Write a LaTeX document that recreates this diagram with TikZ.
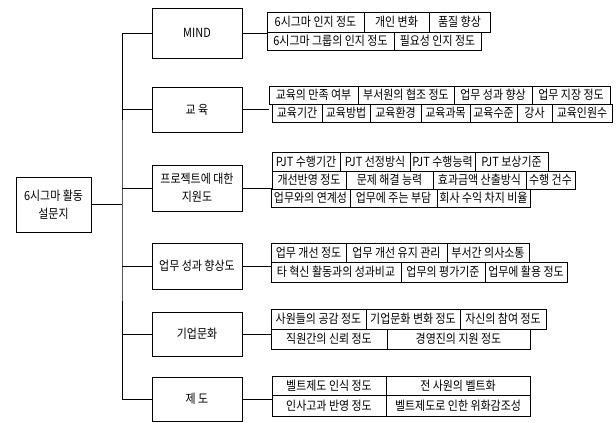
\documentclass[tikz,border=0pt]{standalone}
\usepackage{fontspec}
\setmainfont{Noto Sans CJK KR}
\newfontfamily\itemfont[FakeStretch=0.87]{Noto Sans CJK KR}
\newcommand\mycell[6]{\node[item, minimum width={(#4-#2)*1pt}, minimum height={(#5-#3)*1pt}] (#1) at ({(#2+#4)/2},{(#3+#5)/2}) {\makebox[0pt]{#6}};}
\begin{document}
\begin{tikzpicture}[x=1pt,y=-1pt,
  item/.style={draw, line width=0.9pt, inner sep=0pt, font=\itemfont\fontsize{12.6}{13}\selectfont},
  catbox/.style={draw, line width=0.9pt, inner sep=0pt, align=center, minimum width=90pt, font=\itemfont\fontsize{12.6}{18}\selectfont},
  link/.style={line width=0.9pt}]
\useasboundingbox (0,0) rectangle (616,423);
% root
\node[catbox, minimum width=75pt, minimum height=55pt] (root) at (53.5,204.5) {6시그마 활동\\설문지};
% categories
\node[catbox, minimum height=50pt] (mind) at (197,33) {MIND};
\node[catbox, minimum height=45pt] (edu) at (197,109.5) {교 육};
\node[catbox, minimum height=46pt] (pjt) at (197,188) {프로젝트에 대한\\지원도};
\node[catbox, minimum height=46pt] (perf) at (197,266) {업무 성과 향상도};
\node[catbox, minimum height=44pt] (cult) at (197,334) {기업문화};
\node[catbox, minimum height=44pt] (sys) at (197,399) {제 도};
\coordinate (tk) at (122,204.5);
% MIND items
\mycell{m1}{267}{12}{364}{32}{6시그마 인지 정도}
\mycell{m2}{364}{12}{429}{32}{개인 변화}
\mycell{m3}{429}{12}{490}{32}{품질 향상}
\mycell{m4}{267}{32}{394}{50}{6시그마 그룹의 인지 정도}
\mycell{m5}{394}{32}{481}{50}{필요성 인지 정도}
% education items
\mycell{e1}{269}{86}{358}{104}{교육의 만족 여부}
\mycell{e2}{358}{86}{454}{104}{부서원의 협조 정도}
\mycell{e3}{454}{86}{532}{104}{업무 성과 향상}
\mycell{e4}{532}{86}{610}{104}{업무 지장 정도}
\mycell{e5}{272}{104}{322}{122}{교육기간}
\mycell{e6}{322}{104}{370}{122}{교육방법}
\mycell{e7}{370}{104}{421}{122}{교육환경}
\mycell{e8}{421}{104}{470}{122}{교육과목}
\mycell{e9}{470}{104}{517}{122}{교육수준}
\mycell{e10}{517}{104}{552}{122}{강사}
\mycell{e11}{552}{104}{612}{122}{교육인원수}
% project items
\mycell{p1}{272}{152}{340}{171}{PJT 수행기간}
\mycell{p2}{340}{152}{410}{171}{PJT 선정방식}
\mycell{p3}{410}{152}{475}{171}{PJT 수행능력}
\mycell{p4}{475}{152}{548}{171}{PJT 보상기준}
\mycell{p5}{272}{171}{346}{189}{개선반영 정도}
\mycell{p6}{346}{171}{433}{189}{문제 해결 능력}
\mycell{p7}{433}{171}{526}{189}{효과금액 산출방식}
\mycell{p8}{526}{171}{575}{189}{수행 건수}
\mycell{p9}{271}{189}{350}{207}{업무와의 연계성}
\mycell{p10}{350}{189}{437}{207}{업무에 주는 부담}
\mycell{p11}{437}{189}{530}{207}{회사 수익 차지 비율}
% performance items
\mycell{f1}{271}{243}{346}{262}{업무 개선 정도}
\mycell{f2}{346}{243}{447}{262}{업무 개선 유지 관리}
\mycell{f3}{447}{243}{529}{262}{부서간 의사소통}
\mycell{f4}{271}{262}{401}{282}{타 혁신 활동과의 성과비교}
\mycell{f5}{401}{262}{485}{282}{업무의 평가기준}
\mycell{f6}{485}{262}{567}{282}{업무에 활용 정도}
% culture items
\mycell{c1}{271}{309}{366}{329}{사원들의 공감 정도}
\mycell{c2}{366}{309}{460}{329}{기업문화 변화 정도}
\mycell{c3}{460}{309}{546}{329}{자신의 참여 정도}
\mycell{c4}{271}{329}{387}{349}{직원간의 신뢰 정도}
\mycell{c5}{387}{329}{530}{349}{경영진의 지원 정도}
% system items
\mycell{s1}{272}{376}{386}{395}{벨트제도 인식 정도}
\mycell{s2}{386}{376}{530}{395}{전 사원의 벨트화}
\mycell{s3}{272}{395}{386}{416}{인사고과 반영 정도}
\mycell{s4}{386}{395}{530}{416}{벨트제도로 인한 위화감조성}
% trunk connectors
\draw[link] (root.east) -- (tk);
\draw[link] (mind.west) -| (tk) |- (sys.west);
\draw[link] (edu.west) -- (edu.west -| tk);
\draw[link] (pjt.west) -- (pjt.west -| tk);
\draw[link] (perf.west) -- (perf.west -| tk);
\draw[link] (cult.west) -- (cult.west -| tk);
% category to items
\draw[link] (mind.east) -- (mind.east -| m1.west);
\draw[link] (edu.east) -- (edu.east -| e1.west);
\draw[link] (pjt.east) -- (pjt.east -| p5.west);
\draw[link] (perf.east) -- (perf.east -| f1.west);
\draw[link] (cult.east) -- (cult.east -| c1.west);
\draw[link] (sys.east) -- (sys.east -| s1.west);
\end{tikzpicture}
\end{document}
